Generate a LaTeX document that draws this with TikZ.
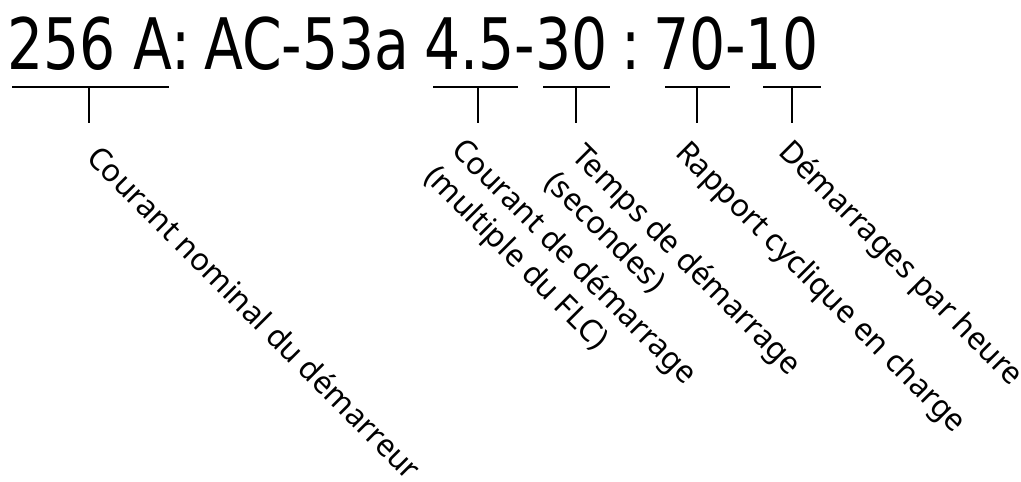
\documentclass[tikz,border=0pt]{standalone}
\usepackage{fontspec}
\usepackage{tikz}
\usetikzlibrary{positioning}
\newfontfamily\codefont[FakeStretch=0.8]{DejaVu Sans}
\newfontfamily\labfont{Noto Sans}
\tikzset{
  code/.style={font=\codefont\fontsize{71}{71}\selectfont, inner sep=0pt, anchor=base west},
  lbl/.style={font=\labfont\fontsize{31}{38}\selectfont, inner sep=0pt, anchor=base west, rotate=-45, align=left},
  rule/.style={line width=2.8pt}}

\begin{document}
\begin{tikzpicture}[x=1pt,y=-1pt]
  \useasboundingbox (0,0) rectangle (1021,482);
    \node[code] (nom) at (7,69) {256 A:};
    \node[code] (cat) at (204,69) {AC-53a};
        \node[code] (dem) at (424,69) {4.5-30};
        \node[code] (sep) at (621,69) {:};
        \node[code] (cyc) at (653,69) {70-10};
    \coordinate (u1l) at (12,87);  \coordinate (u1r) at (169,87);
    \coordinate (u2l) at (433,87); \coordinate (u2r) at (518,87);
    \coordinate (u3l) at (543,87); \coordinate (u3r) at (610,87);
    \coordinate (u4l) at (665,87); \coordinate (u4r) at (730,87);
    \coordinate (u5l) at (763,87); \coordinate (u5r) at (821,87);
    \coordinate (t1) at (89,87);   \coordinate (b1) at (89,123);
    \coordinate (t2) at (478,87);  \coordinate (b2) at (478,123);
    \coordinate (t3) at (576,87);  \coordinate (b3) at (576,123);
    \coordinate (t4) at (697,87);  \coordinate (b4) at (697,123);
    \coordinate (t5) at (792,87);  \coordinate (b5) at (792,123);
     \draw [rule] (u1l) -- (u1r);
     \draw [rule] (u2l) -- (u2r);
     \draw [rule] (u3l) -- (u3r);
     \draw [rule] (u4l) -- (u4r);
     \draw [rule] (u5l) -- (u5r);
      \draw [rule] (t1) -- (b1);
      \draw [rule] (t2) -- (b2);
      \draw [rule] (t3) -- (b3);
      \draw [rule] (t4) -- (b4);
      \draw [rule] (t5) -- (b5);
    \node[lbl] (l1) at (85,159) {Courant nominal du démarreur};
    \node[lbl] (l2) at (423,178) {Courant de démarrage\\(multiple du FLC)};
    \node[lbl] (l3) at (543,184) {Temps de démarrage\\(secondes)};
    \node[lbl] (l4) at (674,154) {Rapport cyclique en charge};
    \node[lbl] (l5) at (777,153) {Démarrages par heure};
\end{tikzpicture}
\end{document}
